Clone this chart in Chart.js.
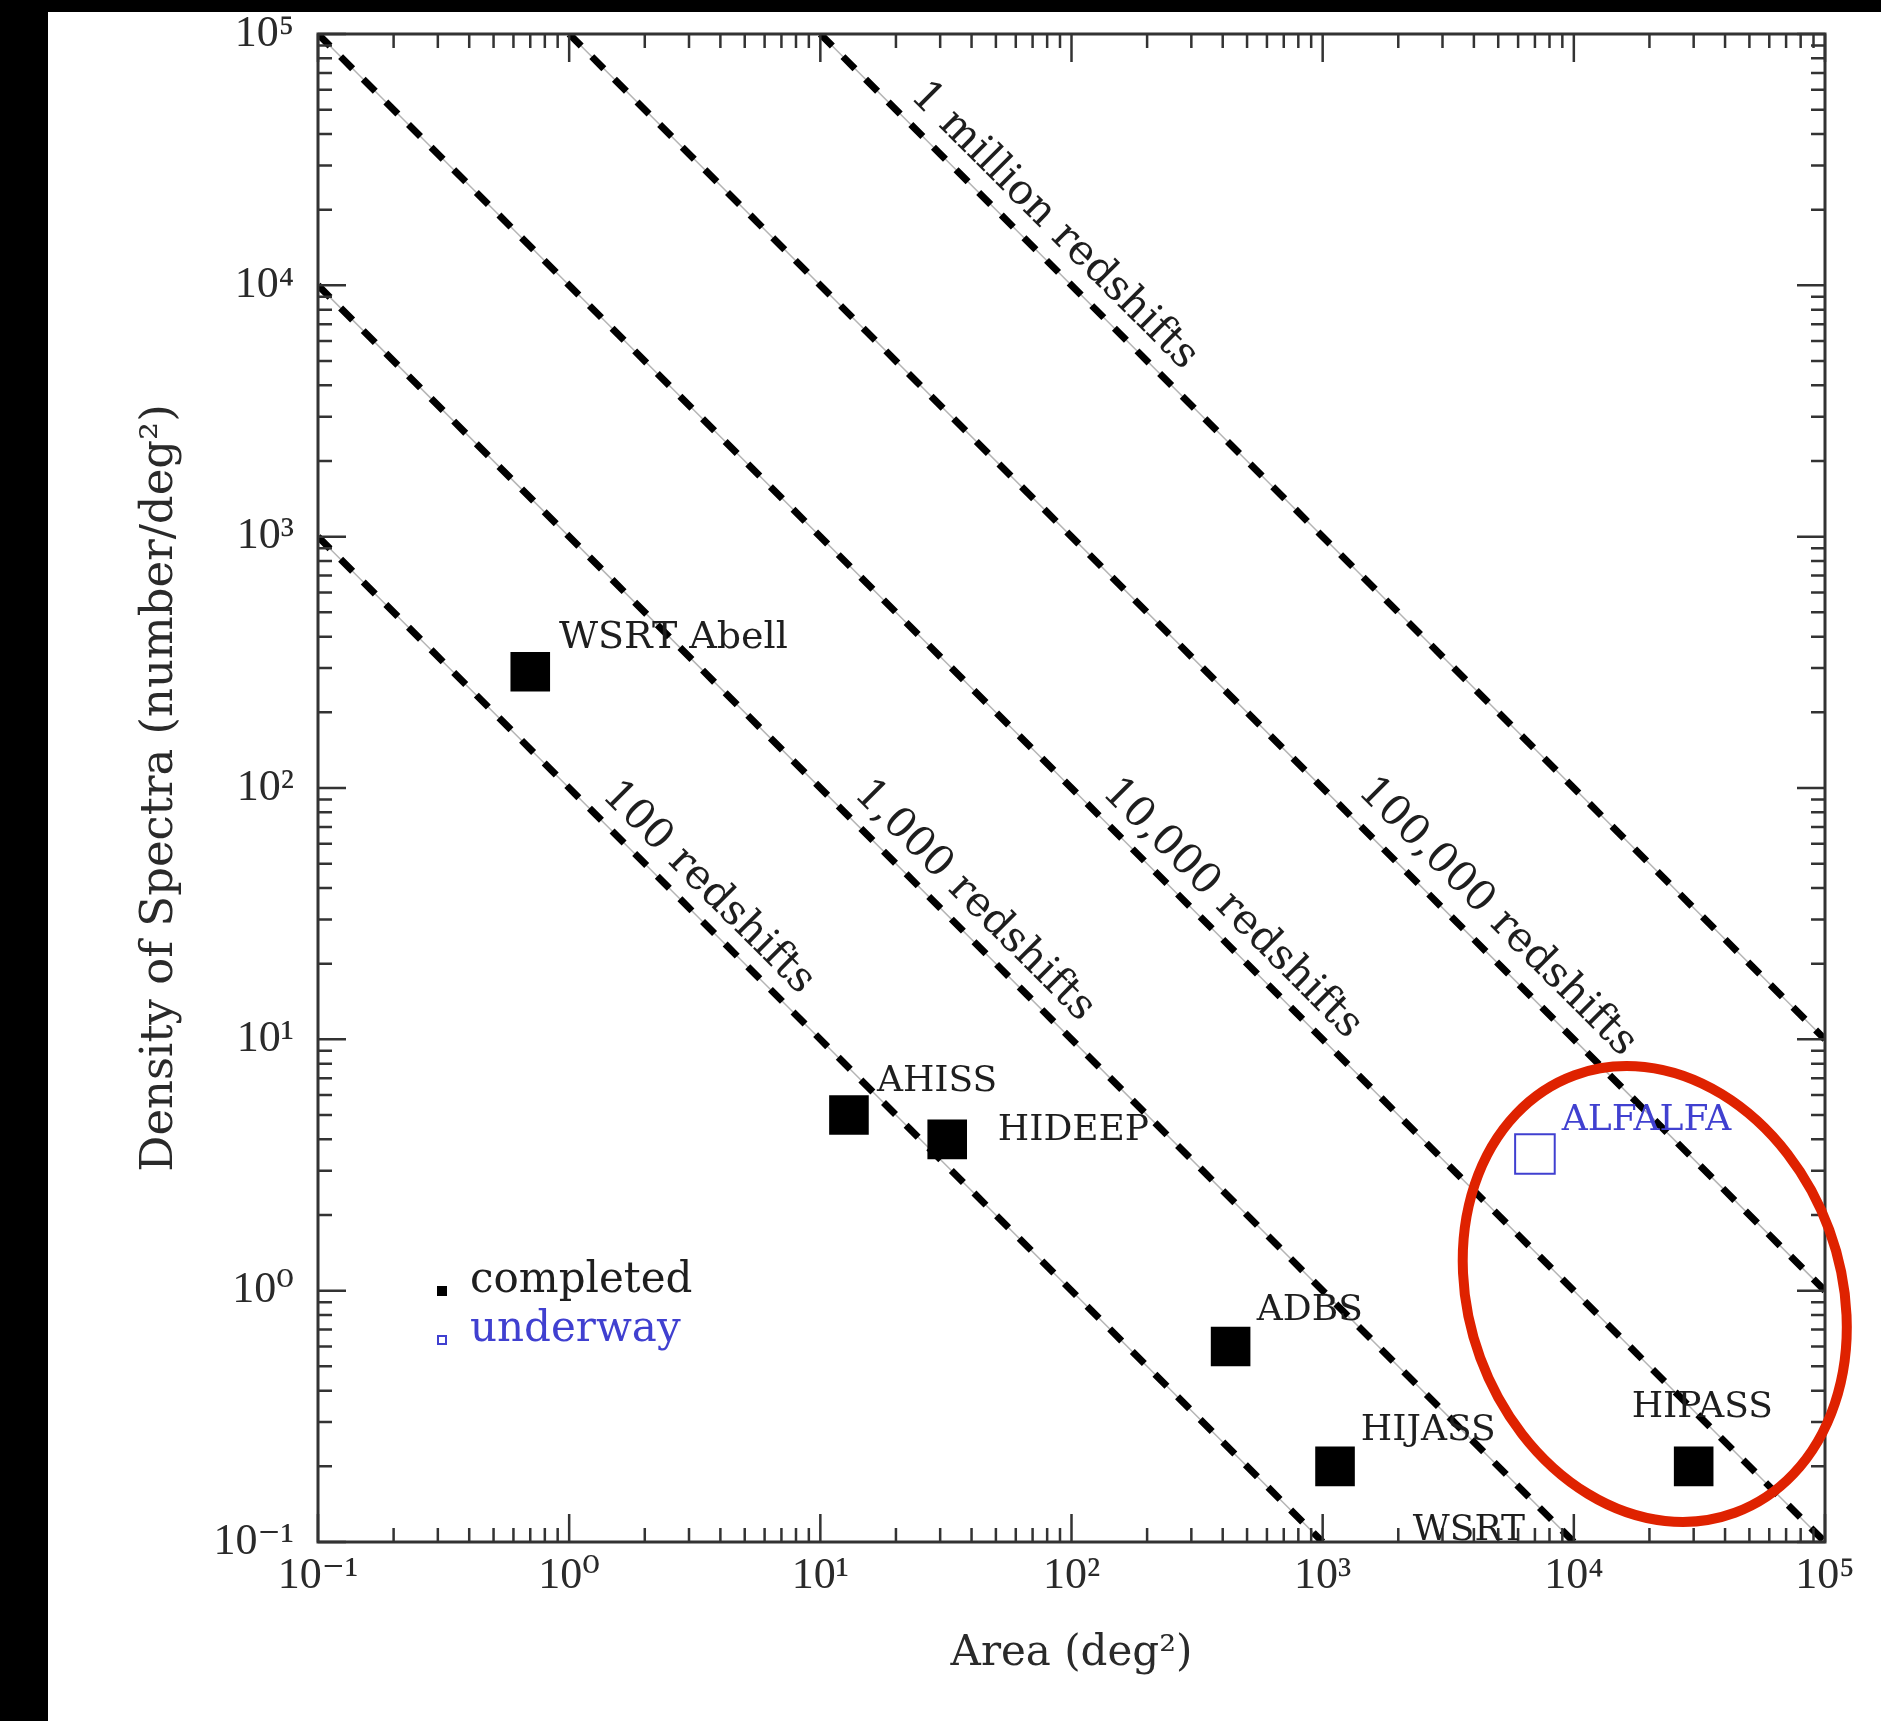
<!DOCTYPE html>
<html>
<head>
<meta charset="utf-8">
<title>Density of Spectra vs Area</title>
<script src="https://cdn.jsdelivr.net/npm/chart.js@4.4.1/dist/chart.umd.min.js"></script>
<style>
  html, body { margin: 0; padding: 0; background: #000; overflow: hidden; }
  #wrap { position: absolute; left: 0; top: 0; width: 1881px; height: 1721px; }
</style>
</head>
<body>
<div id="wrap"><canvas id="surveyChart" width="1881" height="1721"></canvas></div>
<script>
// ===============================
// DATA
// ===============================
const decadeTicks = [0.1, 1, 10, 100, 1000, 10000, 100000];

// constant-number lines (area x density = total)
const redshiftTotals = [100, 1000, 10000, 100000, 1000000];
const redshiftLabels = ['100 redshifts', '1,000 redshifts', '10,000 redshifts', '100,000 redshifts', '1 million redshifts'];
const lineStarts = [[0.1, 1000], [0.1, 10000], [0.1, 100000], [1, 100000], [10, 100000]];
const lineEnds = [[1000, 0.1], [10000, 0.1], [100000, 0.1], [100000, 1], [100000, 10]];
const redshiftLabelX = [3.57, 40.9, 435, 4940, 85];
const redshiftLabelY = [40, 35.5, 33, 30.6, 17200];

// surveys
const completedNames = ['WSRT Abell', 'AHISS', 'HIDEEP', 'ADBS', 'HIJASS', 'HIPASS'];
const completedArea = [0.7, 13, 32, 430, 1120, 30000];
const completedDensity = [290, 5, 4, 0.6, 0.2, 0.2];

const underwayNames = ['ALFALFA'];
const underwayArea = [7000];
const underwayDensity = [3.5];

// text next to the survey marks (left end, baseline)
const surveyLabels = ['WSRT Abell', 'AHISS', 'HIDEEP', 'ADBS', 'HIJASS', 'WSRT', 'HIPASS', 'ALFALFA'];
const surveyLabelX = [0.91, 16.8, 50.9, 547, 1419, 2286, 17000, 8950];
const surveyLabelY = [360, 6.22, 3.97, 0.764, 0.254, 0.1017, 0.314, 4.35];
const surveyLabelStatus = ['completed', 'completed', 'completed', 'completed', 'completed', 'completed', 'completed', 'underway'];

const BLUE = '#4040d0';
const INK = '#1e1e1e';
const SERIF = "'DejaVu Serif', serif";
const TICK_FONT = "'Liberation Serif', 'DejaVu Serif', serif";

const SUP = { '-': '\u207B', '0': '\u2070', '1': '\u00B9', '2': '\u00B2', '3': '\u00B3', '4': '\u2074', '5': '\u2075' };

function powerLabel(v) {
    const e = Math.round(Math.log10(v));
    return '10' + String(e).split('').map(c => SUP[c]).join('');
}


// ===============================
// DATASETS
// ===============================
// lower "order" is drawn on top in Chart.js
const datasets = [];

lineStarts.forEach((s, i) => {
    const pts = [{ x: s[0], y: s[1] }, { x: lineEnds[i][0], y: lineEnds[i][1] }];
    // faint grey line under the dashes
    datasets.push({
        label: 'N=' + redshiftTotals[i] + ' base',
        data: pts,
        order: 5,
        showLine: true,
        borderColor: '#b4b4b4',
        borderWidth: 1.5,
        pointRadius: 0,
        pointHoverRadius: 0
    });
    datasets.push({
        label: 'N=' + redshiftTotals[i],
        data: pts,
        order: 4,
        showLine: true,
        borderColor: '#000',
        borderWidth: 7,
        borderDash: [17, 15],
        pointRadius: 0,
        pointHoverRadius: 0
    });
});

datasets.push({
    label: 'completed',
    data: completedArea.map((a, i) => ({ x: a, y: completedDensity[i] })),
    order: 1,
    pointStyle: 'rect',
    pointRadius: 28,
    pointHoverRadius: 28,
    backgroundColor: '#000',
    borderWidth: 0
});

datasets.push({
    label: 'underway',
    data: underwayArea.map((a, i) => ({ x: a, y: underwayDensity[i] })),
    order: 1,
    pointStyle: 'rect',
    pointRadius: 28,
    pointHoverRadius: 28,
    backgroundColor: 'rgba(255,255,255,0)',
    borderColor: BLUE,
    borderWidth: 2
});


// ===============================
// DECORATION PLUGIN
// ===============================
const surveyDecor = {
    id: 'surveyDecor',
    beforeDraw(chart) {
        const ctx = chart.ctx;
        ctx.save();
        ctx.fillStyle = '#000';
        ctx.fillRect(0, 0, chart.width, chart.height);
        ctx.fillStyle = '#fff';
        ctx.fillRect(48, 12, chart.width - 48, chart.height - 12);
        ctx.restore();
    },
    afterDatasetsDraw(chart) {
        const ctx = chart.ctx;
        const xs = chart.scales.x;
        const ys = chart.scales.y;
        const area = chart.chartArea;

        ctx.save();

        // frame + inward ticks on all four sides
        ctx.strokeStyle = '#333';
        ctx.lineWidth = 3;
        ctx.strokeRect(area.left, area.top, area.right - area.left, area.bottom - area.top);

        ctx.lineWidth = 2.5;
        decadeTicks.forEach((d, i) => {
            const vals = [[d, 28]];
            if (i < decadeTicks.length - 1) {
                for (let k = 2; k <= 9; k++) vals.push([d * k, 14]);
            }
            vals.forEach(([v, len]) => {
                const px = xs.getPixelForValue(v);
                const py = ys.getPixelForValue(v);
                ctx.beginPath();
                ctx.moveTo(px, area.bottom); ctx.lineTo(px, area.bottom - len);
                ctx.moveTo(px, area.top); ctx.lineTo(px, area.top + len);
                ctx.moveTo(area.left, py); ctx.lineTo(area.left + len, py);
                ctx.moveTo(area.right, py); ctx.lineTo(area.right - len, py);
                ctx.stroke();
            });
        });

        // labels along the redshift lines
        ctx.fillStyle = INK;
        ctx.font = '42px ' + SERIF;
        ctx.textAlign = 'center';
        ctx.textBaseline = 'middle';
        redshiftLabels.forEach((txt, i) => {
            const x1 = xs.getPixelForValue(lineStarts[i][0]);
            const y1 = ys.getPixelForValue(lineStarts[i][1]);
            const x2 = xs.getPixelForValue(lineEnds[i][0]);
            const y2 = ys.getPixelForValue(lineEnds[i][1]);
            const angle = Math.atan2(y2 - y1, x2 - x1);
            ctx.save();
            ctx.translate(xs.getPixelForValue(redshiftLabelX[i]), ys.getPixelForValue(redshiftLabelY[i]));
            ctx.rotate(angle);
            ctx.fillText(txt, 0, 0);
            ctx.restore();
        });

        // survey names
        ctx.textAlign = 'left';
        ctx.textBaseline = 'alphabetic';
        surveyLabels.forEach((txt, i) => {
            ctx.font = (txt === 'WSRT Abell' ? '38px ' : '36px ') + SERIF;
            ctx.fillStyle = surveyLabelStatus[i] === 'underway' ? BLUE : INK;
            ctx.fillText(txt, xs.getPixelForValue(surveyLabelX[i]), ys.getPixelForValue(surveyLabelY[i]));
        });

        // legend box inside the plot
        const lx = area.left + 124;
        const rows = [
            { text: 'completed', y: area.top + 1257, fill: '#000', stroke: null, color: INK },
            { text: 'underway', y: area.top + 1306, fill: null, stroke: BLUE, color: BLUE }
        ];
        ctx.font = '42px ' + SERIF;
        rows.forEach(r => {
            if (r.fill) {
                ctx.fillStyle = r.fill;
                ctx.fillRect(lx - 5, r.y - 5, 10, 10);
            } else {
                ctx.strokeStyle = r.stroke;
                ctx.lineWidth = 2;
                ctx.strokeRect(lx - 4, r.y - 4, 8, 8);
            }
            ctx.fillStyle = r.color;
            ctx.fillText(r.text, lx + 28, r.y + 1);
        });

        ctx.restore();
    },
    afterDraw(chart) {
        // red highlight ellipse around the large-area surveys
        const ctx = chart.ctx;
        const xs = chart.scales.x;
        const ys = chart.scales.y;
        const decadeX = xs.getPixelForValue(10) - xs.getPixelForValue(1);
        const decadeY = ys.getPixelForValue(1) - ys.getPixelForValue(10);
        ctx.save();
        ctx.strokeStyle = '#df2200';
        ctx.lineWidth = 10;
        ctx.beginPath();
        ctx.ellipse(xs.getPixelForValue(21000), ys.getPixelForValue(0.97),
            0.74 * decadeX, 0.927 * decadeY, -0.351, 0, Math.PI * 2);
        ctx.stroke();
        ctx.restore();
    }
};


// ===============================
// CHART
// ===============================
const ctxMain = document.getElementById('surveyChart').getContext('2d');
new Chart(ctxMain, {
    type: 'scatter',
    data: { datasets: datasets },
    plugins: [surveyDecor],
    options: {
        responsive: false,
        animation: false,
        devicePixelRatio: 1,
        layout: { padding: { top: 34, right: 56, bottom: 0, left: 0 } },
        plugins: {
            legend: { display: false },
            tooltip: { enabled: false }
        },
        scales: {
            x: {
                type: 'logarithmic',
                position: 'bottom',
                min: 0.1,
                max: 100000,
                grid: { display: false, drawTicks: false },
                border: { display: false },
                afterBuildTicks: axis => { axis.ticks = decadeTicks.map(v => ({ value: v })); },
                afterFit: axis => {
                    axis.height = 179;
                    axis.paddingLeft = 0;
                    axis.paddingRight = 0;
                },
                ticks: {
                    color: '#2a2a2a',
                    padding: 8,
                    maxRotation: 0,
                    autoSkip: false,
                    font: { family: TICK_FONT, size: 44, lineHeight: 1.2 },
                    callback: v => powerLabel(v)
                },
                title: {
                    display: true,
                    text: 'Area (deg\u00B2)',
                    color: '#2a2a2a',
                    font: { family: SERIF, size: 42, lineHeight: 1.2 },
                    padding: { top: 0, bottom: 42 }
                }
            },
            y: {
                type: 'logarithmic',
                position: 'left',
                min: 0.1,
                max: 100000,
                grid: { display: false, drawTicks: false },
                border: { display: false },
                afterBuildTicks: axis => { axis.ticks = decadeTicks.map(v => ({ value: v })); },
                afterFit: axis => {
                    axis.width = 318;
                    axis.paddingTop = 0;
                    axis.paddingBottom = 0;
                },
                ticks: {
                    color: '#2a2a2a',
                    padding: 24,
                    autoSkip: false,
                    font: { family: TICK_FONT, size: 44, lineHeight: 1.2 },
                    callback: v => powerLabel(v)
                },
                title: {
                    display: true,
                    text: 'Density of Spectra (number/deg\u00B2)',
                    color: '#2a2a2a',
                    font: { family: SERIF, size: 45, lineHeight: 1.2 },
                    padding: { top: 133, bottom: 0 }
                }
            }
        }
    }
});
</script>
</body>
</html>
